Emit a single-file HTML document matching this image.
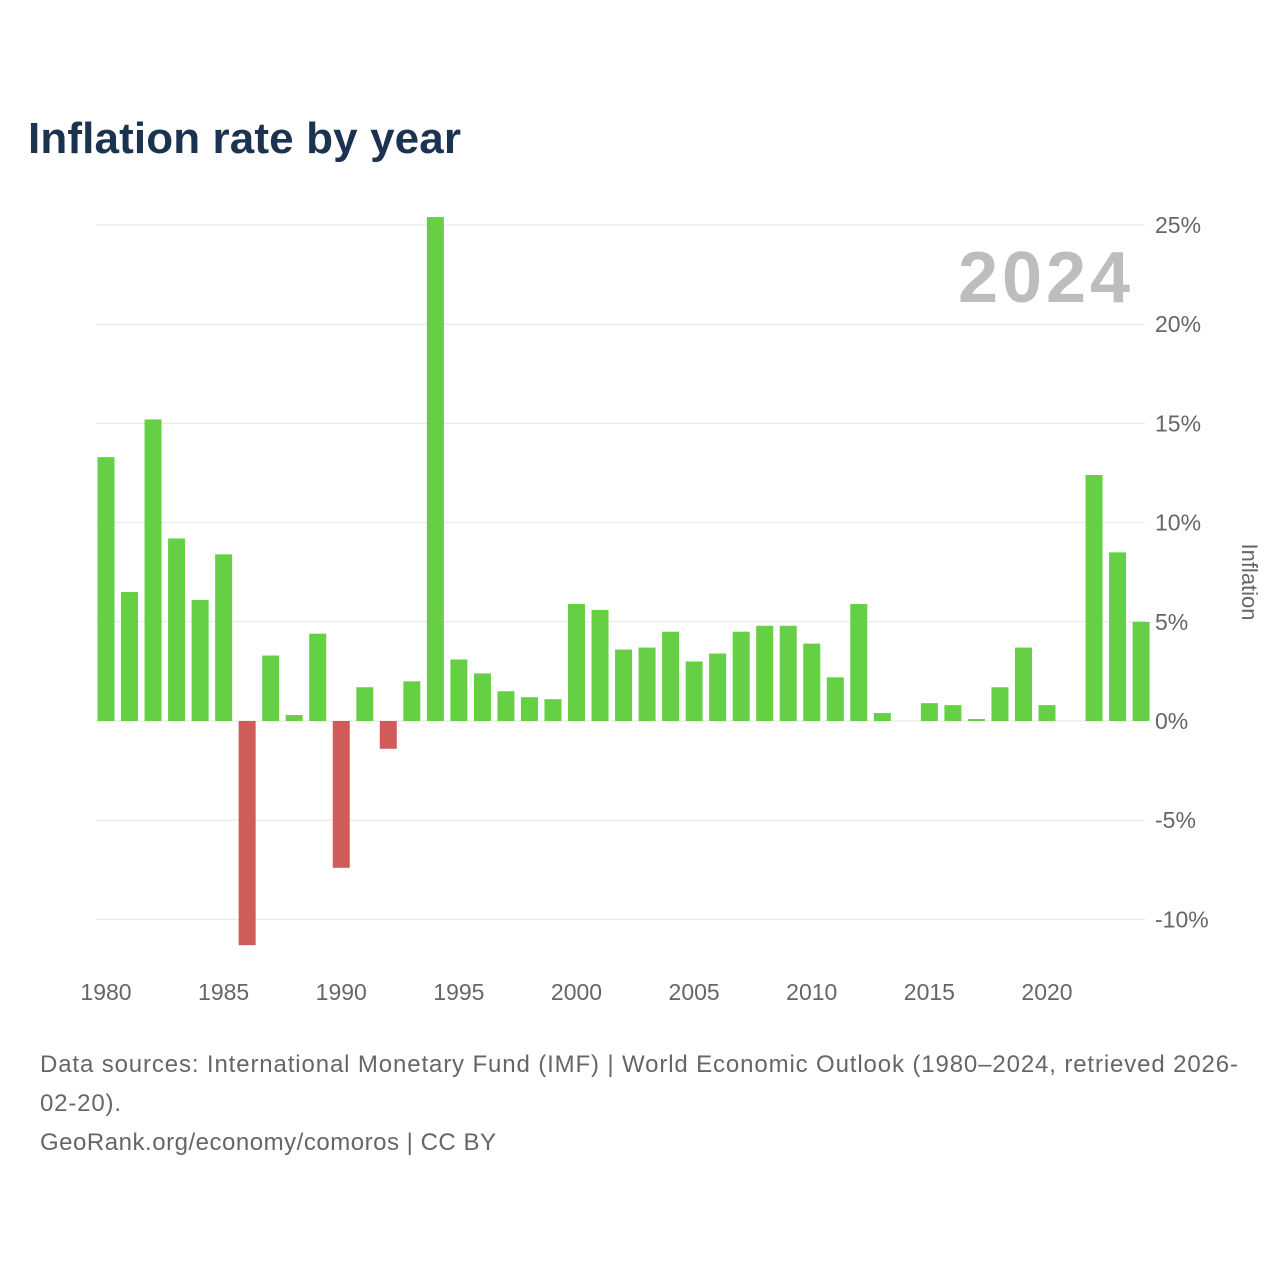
<!DOCTYPE html>
<html><head><meta charset="utf-8"><style>
body{margin:0;width:1280px;height:1280px;background:#fff;font-family:"Liberation Sans",sans-serif;overflow:hidden}
</style></head><body>
<svg id="chart" width="1280" height="1280" xmlns="http://www.w3.org/2000/svg">
<text x="28" y="153" font-size="44" font-weight="bold" fill="#1b3350" textLength="433">Inflation rate by year</text>
<text x="1130" y="302" font-size="72" font-weight="bold" fill="#bdbdbd" text-anchor="end" textLength="172">2024</text>
<g id="grid"></g><g id="bars"></g><g id="yticks"></g><g id="xticks"></g>
<text transform="translate(1242,582) rotate(90)" font-size="22" fill="#666" text-anchor="middle">Inflation</text>
<text x="40" y="1072" font-size="24" fill="#666" textLength="1198">Data sources: International Monetary Fund (IMF) | World Economic Outlook (1980–2024, retrieved 2026-</text>
<text x="40" y="1111" font-size="24" fill="#666" textLength="81">02-20).</text>
<text x="40" y="1150" font-size="24" fill="#666" textLength="456">GeoRank.org/economy/comoros | CC BY</text>
</svg>
<script>
const years=[];for(let y=1980;y<=2024;y++)years.push(y);
const values=[13.3,6.5,15.2,9.2,6.1,8.4,-11.3,3.3,0.3,4.4,-7.4,1.7,-1.4,2.0,25.4,3.1,2.4,1.5,1.2,1.1,5.9,5.6,3.6,3.7,4.5,3.0,3.4,4.5,4.8,4.8,3.9,2.2,5.9,0.4,0,0.9,0.8,0.1,1.7,3.7,0.8,0,12.4,8.5,5.0];
const yTicks=[-10,-5,0,5,10,15,20,25];
const xTicks=[1980,1985,1990,1995,2000,2005,2010,2015,2020];
const NS="http://www.w3.org/2000/svg";
const yS=v=>721-v*19.84;
const xS=yr=>106+(yr-1980)*23.525;
function mk(t,a,p){const e=document.createElementNS(NS,t);for(const k in a)e.setAttribute(k,a[k]);document.getElementById(p).appendChild(e);return e;}
yTicks.forEach(v=>{
 const l=mk('line',{x1:96,x2:1145,y1:yS(v),y2:yS(v),stroke:'#e6e6e6','stroke-width':1},'grid');
 
 
 const t=mk('text',{x:1155,y:yS(v)+8,'font-size':23,fill:'#666'},'yticks');
 t.textContent=v+'%';
 
 
});
xTicks.forEach(yr=>{
 const t=mk('text',{x:xS(yr),y:1000,'font-size':23,fill:'#666','text-anchor':'middle'},'xticks');
 t.textContent=yr;
 
 
});
years.forEach((yr,i)=>{
 const v=values[i];const y0=yS(0),y1=yS(v);
 const r=mk('rect',{x:xS(yr)-8.5,width:17,y:Math.min(y0,y1),height:Math.abs(y1-y0),fill:v>=0?'#66d044':'#d05c5a'},'bars');
 
 
});
</script>
</body></html>
